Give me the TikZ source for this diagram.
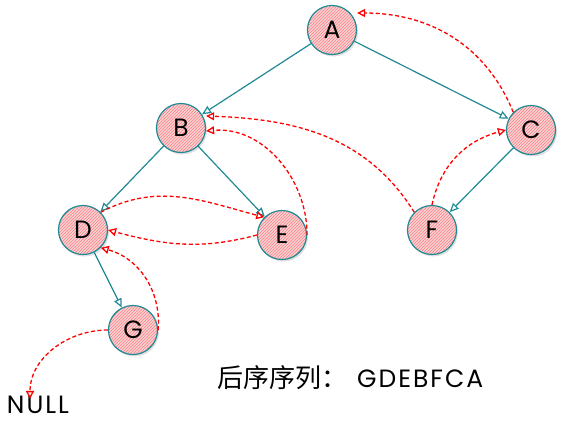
\documentclass[tikz,border=0pt]{standalone}
\usepackage{fontspec}
\setmainfont{Poppins}
\newfontfamily\cjk{Noto Sans CJK SC}
\newfontfamily\wide{Poppins}[LetterSpace=8]
\usetikzlibrary{arrows.meta,patterns,shadows}
\definecolor{teal1}{HTML}{1F8A96}
\definecolor{pinkf}{HTML}{F8D3D7}
\begin{document}
\begin{tikzpicture}[x=1pt,y=-1pt,
  vtx/.style={circle,draw=teal1,line width=1.2pt,minimum size=49pt,inner sep=0pt,
    preaction={fill=pinkf,drop shadow={shadow xshift=1.5pt,shadow yshift=-2pt,opacity=0.25}},
    pattern=north east lines,pattern color=red!50,
    font=\fontsize{25}{26}\selectfont},
  tree/.style={draw=teal1,line width=1.2pt,-{Triangle[open,length=9pt,width=8pt]}},
  thr/.style={draw=red,line width=1.3pt,dash pattern=on 4pt off 2.5pt,-{Triangle[open,length=8pt,width=8pt]}}]
\useasboundingbox (0,0) rectangle (567,421);
\node[vtx] (A) at (332,30) {A};
\node[vtx] (B) at (181,128) {B};
\node[vtx] (C) at (531,130) {C};
\node[vtx] (D) at (83,230) {D};
\node[vtx] (E) at (282,235) {E};
\node[vtx] (F) at (432,230) {F};
\node[vtx] (G) at (133,330) {G};
\node[font=\fontsize{25}{26}\selectfont\wide,inner sep=0pt] (N) at (38,405) {NULL};
\node[anchor=west,font=\fontsize{26}{27}\selectfont,inner sep=0pt] (T) at (217,378) {{\cjk 后序序列：}\hspace{10pt}{\wide\fontsize{25}{26}\selectfont GDEBFCA}};
% tree edges
\draw[tree] (A) -- (B);
\draw[tree] (A) -- (C);
\draw[tree] (B) -- (D);
\draw[tree] (B) -- (E);
\draw[tree] (C) -- (F);
\draw[tree] (D) -- (G);
% threads
\draw[thr] (C.north west) to[out=112,in=0] (A.east |- 0,13);
\draw[thr] (F.north) to[out=78,in=195] (C.west);
\draw[thr] (F.north west) to[out=122,in=-2] (B.east |- 0,116);
\draw[thr] (E.east) to[out=90,in=5] (B.east |- 0,131);
\draw[thr] (D.north east) to[out=28,in=165] (E.north west);
\draw[thr] (E.west) to[out=195,in=-15] (D.east);
\draw[thr] (G.east) to[out=85,in=-15] (D.south east);
\draw[thr] (G.west) to[out=180,in=90] ([yshift=-3pt]N.north -| 30,0);
\end{tikzpicture}
\end{document}
